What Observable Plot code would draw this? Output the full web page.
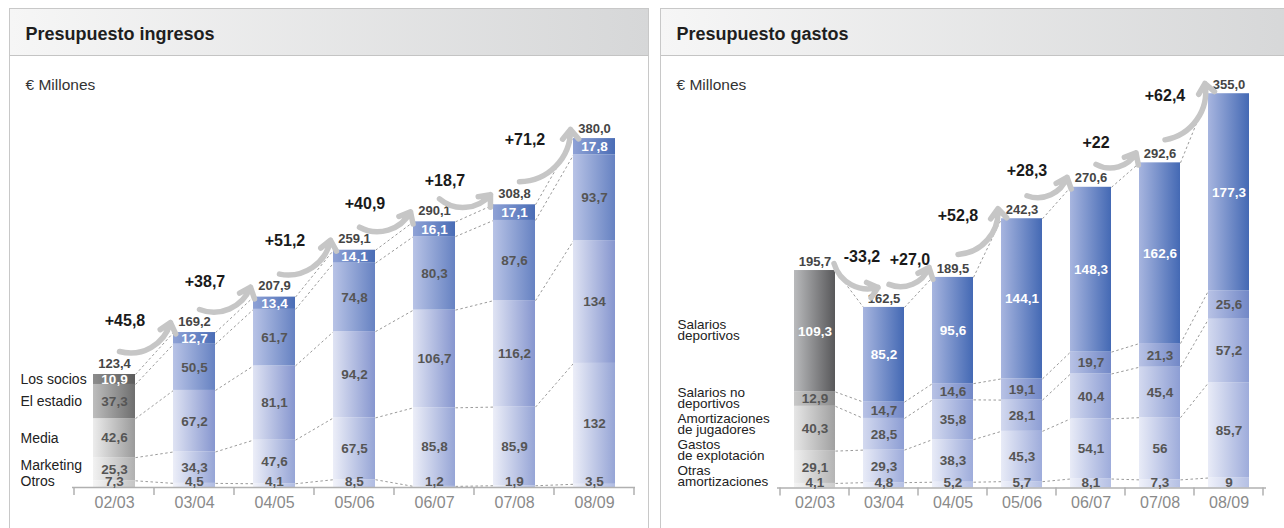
<!DOCTYPE html>
<html>
<head>
<meta charset="utf-8">
<script src="https://cdn.jsdelivr.net/npm/d3@7"></script>
<script src="https://cdn.jsdelivr.net/npm/@observablehq/plot@0.6"></script>
<style>
  body { margin: 0; background: #fff; font-family: "Liberation Sans", Arial, sans-serif; }
  #root { position: relative; width: 1284px; height: 528px; overflow: hidden; }
  .panel { position: absolute; top: 8px; height: 560px; border: 1.5px solid #c8c8c8; box-sizing: border-box; background: #fff; }
  .hdr { height: 47px; border-bottom: 1.5px solid #c4c4c4; box-sizing: border-box; background: linear-gradient(to right, #f6f6f6, #d6d7d8); }
  .title { position: absolute; left: 15.5px; top: 15px; font-weight: bold; font-size: 18px; color: #1e1e1e; }
  .unit { position: absolute; left: 15.5px; top: 67px; font-size: 15.5px; color: #333; }
  .chart { position: absolute; top: 55px; }
  .chart svg { overflow: visible; }
</style>
</head>
<body>
<svg width="0" height="0" style="position:absolute">
  <defs id="grads"></defs>
</svg>
<div id="root">
  <div class="panel" style="left:9px;width:640px;">
    <div class="hdr"></div>
    <div class="title">Presupuesto ingresos</div>
    <div class="unit">€ Millones</div>
  </div>
  <div class="panel" style="left:660px;width:640px;">
    <div class="hdr"></div>
    <div class="title">Presupuesto gastos</div>
    <div class="unit">€ Millones</div>
  </div>
  <div class="chart" id="c1" style="left:10px;"></div>
  <div class="chart" id="c2" style="left:662px;"></div>
</div>
<script>
// ---------- DATA ----------
const years = ["02/03", "03/04", "04/05", "05/06", "06/07", "07/08", "08/09"];

// Ingresos (bottom to top)
const ingCats = ["Otros", "Marketing", "Media", "El estadio", "Los socios"];
const ingOtros     = [7.3, 4.5, 4.1, 8.5, 1.2, 1.9, 3.5];
const ingMarketing = [25.3, 34.3, 47.6, 67.5, 85.8, 85.9, 132];
const ingMedia     = [42.6, 67.2, 81.1, 94.2, 106.7, 116.2, 134];
const ingEstadio   = [37.3, 50.5, 61.7, 74.8, 80.3, 87.6, 93.7];
const ingSocios    = [10.9, 12.7, 13.4, 14.1, 16.1, 17.1, 17.8];
const ingTotals    = [123.4, 169.2, 207.9, 259.1, 290.1, 308.8, 380.0];
const ingChanges   = ["+45,8", "+38,7", "+51,2", "+40,9", "+18,7", "+71,2"];

// Gastos (bottom to top)
const gasCats = ["Otras\namortizaciones", "Gastos\nde explotación", "Amortizaciones\nde jugadores", "Salarios no\ndeportivos", "Salarios\ndeportivos"];
const gasOtras      = [4.1, 4.8, 5.2, 5.7, 8.1, 7.3, 9];
const gasExplot     = [29.1, 29.3, 38.3, 45.3, 54.1, 56, 85.7];
const gasAmortJug   = [40.3, 28.5, 35.8, 28.1, 40.4, 45.4, 57.2];
const gasSalNoDep   = [12.9, 14.7, 14.6, 19.1, 19.7, 21.3, 25.6];
const gasSalDep     = [109.3, 85.2, 95.6, 144.1, 148.3, 162.6, 177.3];
const gasTotals     = [195.7, 162.5, 189.5, 242.3, 270.6, 292.6, 355.0];
const gasChanges    = ["-33,2", "+27,0", "+52,8", "+28,3", "+22", "+62,4"];

// ---------- COLOURS (gradients left->right) ----------
const ingBlue = [["#f2f3fa", "#b0bce2"], ["#eceef8", "#96a5d6"], ["#dfe3f3", "#8696cf"], ["#b8c3e6", "#6682c2"], ["#8fa2d6", "#4a6db6"]];
const ingGray = [["#f5f5f5", "#c5c5c5"], ["#f2f2f2", "#b0b0b0"], ["#ececec", "#9a9a9a"], ["#bdbdbd", "#6e6e6e"], ["#8c8c8c", "#5c5c5c"]];
const gasBlue = [["#eff1fa", "#b5c0e4"], ["#e8ebf7", "#9eacdb"], ["#d3d9ef", "#8d9ed4"], ["#b8c2e5", "#7288c7"], ["#a7b5df", "#4469b4"]];
const gasGray = [["#f4f4f4", "#cccccc"], ["#efefef", "#b4b4b4"], ["#e6e6e6", "#a0a0a0"], ["#c8c8c8", "#8c8c8c"], ["#b9babc", "#58585a"]];

const FONT = "'Liberation Sans', Arial, sans-serif";

const defs = d3.select("#grads");
function addGrads(id, blue, gray) {
  [["b", blue], ["g", gray]].forEach(([t, arr]) => {
    arr.forEach(([c0, c1], k) => {
      const lg = defs.append("linearGradient").attr("id", `${id}-${t}${k}`)
        .attr("x1", 0).attr("x2", 1).attr("y1", 0).attr("y2", 0);
      lg.append("stop").attr("offset", "0%").attr("stop-color", c0);
      lg.append("stop").attr("offset", "100%").attr("stop-color", c1);
    });
  });
}
addGrads("ing", ingBlue, ingGray);
addGrads("gas", gasBlue, gasGray);

function fmt(v) { return Number.isInteger(v) ? String(v) : v.toFixed(1).replace(".", ","); }
function fmt1(v) { return v.toFixed(1).replace(".", ","); }

function makeChart(cfg) {
  const {id, series, cats, totals, changes, width, height, mL, mR, mT, mB, yMax, pad,
         totalDy, labelDx, labelGap, labelBottom, lineHeight, catFont} = cfg;
  const nk = series.length;
  const rows = [];
  years.forEach((yr, i) => {
    let cum = 0;
    series.forEach((s, k) => {
      rows.push({year: yr, i, k, value: s[i], y1: cum, y2: cum + s[i]});
      cum += s[i];
    });
  });
  const links = [];
  for (let i = 0; i < years.length - 1; i++) {
    for (let k = 0; k < nk; k++) {
      const a = rows[i * nk + k], b = rows[(i + 1) * nk + k];
      links.push({a: a.year, b: b.year, ya: a.y2, yb: b.y2});
    }
  }
  const pairs = changes.map((c, i) => ({a: years[i], b: years[i + 1], ta: totals[i], tb: totals[i + 1], label: c, down: c.startsWith("-")}));
  const totalRows = years.map((yr, i) => ({year: yr, total: totals[i]}));
  const catRows = cats.map((c, k) => ({cat: c, k, y: (rows[k].y1 + rows[k].y2) / 2}));

  // arrow geometry offsets (pixels) relative to band centre / total top
  function arrowPts(d, scales) {
    const xa = scales.x(d.a), xb = scales.x(d.b), ya = scales.y(d.ta), yb = scales.y(d.tb);
    if (d.down) return [xa + 19, ya - 7, xb - 6, yb - 20];
    return [xa + 5, ya - 23, xb - 24, yb - 10];
  }

  const ticks = (index, scales) => {
    const x = scales.x, y0 = scales.y(0);
    const bw = x.bandwidth(), off = (x.step() - bw) / 2;
    const xs = years.map(yr => x(yr) - off);
    xs.push(x(years[years.length - 1]) + bw + off);
    const g = d3.create("svg:g").attr("stroke", "#b0b0b0").attr("stroke-width", 1.5);
    for (const xx of xs) g.append("line").attr("x1", xx).attr("x2", xx).attr("y1", y0).attr("y2", y0 + 8);
    return g.node();
  };

  return Plot.plot({
    width, height, marginLeft: mL, marginRight: mR, marginTop: mT, marginBottom: mB,
    style: {fontFamily: FONT, background: "transparent", overflow: "visible"},
    x: {domain: years, paddingInner: pad, paddingOuter: pad / 2, axis: null},
    y: {domain: [0, yMax], axis: null},
    color: {type: "identity"},
    marks: [
      Plot.link(links, {
        x1: "a", x2: "b", y1: "ya", y2: "yb", stroke: "#9a9a9a", strokeWidth: 1, strokeDasharray: "2.5,2.5",
        render(index, scales, values, dims, ctx, next) {
          const h = scales.x.bandwidth() / 2;
          const X1 = Array.from(values.x1, v => v + h), X2 = Array.from(values.x2, v => v - h);
          return next(index, scales, {...values, x1: X1, x2: X2}, dims, ctx);
        }
      }),
      Plot.barY(rows, {x: "year", y1: "y1", y2: "y2", fill: d => `url(#${id}-${d.i === 0 ? "g" : "b"}${d.k})`}),
      Plot.ruleY([0], {stroke: "#b0b0b0", strokeWidth: 1.5}),
      ticks,
      Plot.axisX({tickSize: 0, tickPadding: 9, fontSize: 16, fill: "#8a8a8a", label: null}),
      Plot.text(rows, {
        x: "year", y: d => (d.y1 + d.y2) / 2, text: d => fmt(d.value),
        fill: d => d.k === nk - 1 ? "#ffffff" : "#555555", fontWeight: "bold", fontSize: 13.5,
        render(index, scales, values, dims, ctx, next) {
          const lim = scales.y(0) - 5.5;
          const Y = Array.from(values.y, v => Math.min(v, lim));
          return next(index, scales, {...values, y: Y}, dims, ctx);
        }
      }),
      Plot.text(totalRows, {x: "year", y: "total", text: d => fmt1(d.total), dy: totalDy, fill: "#454545", fontWeight: "bold", fontSize: 13}),
      Plot.arrow(pairs, {
        x1: "a", y1: "ta", x2: "b", y2: "tb", bend: -45, stroke: "#c6c6c6", strokeWidth: 5.5,
        headLength: 3.4, headAngle: 80, strokeLinecap: "round", strokeLinejoin: "round",
        render(index, scales, values, dims, ctx, next) {
          const X1 = [], Y1 = [], X2 = [], Y2 = [];
          for (const i of index) { [X1[i], Y1[i], X2[i], Y2[i]] = arrowPts(pairs[i], scales); }
          return next(index, scales, {...values, x1: X1, y1: Y1, x2: X2, y2: Y2}, dims, ctx);
        }
      }),
      Plot.text(pairs, {
        x: "a", y: "ta", text: "label", fill: "#1a1a1a", fontWeight: "bold", fontSize: 16,
        render(index, scales, values, dims, ctx, next) {
          const X = [], Y = [];
          let prevX = -Infinity;
          for (const i of index) {
            const [x1, y1, x2, y2] = arrowPts(pairs[i], scales);
            const mx = (x1 + x2) / 2, my = (y1 + y2) / 2;
            if (pairs[i].down) { X[i] = mx + 6; Y[i] = my - 19; }
            else { X[i] = mx - 20; Y[i] = my - 16; }
            X[i] = Math.max(X[i], prevX + 48);   // keep neighbouring labels apart
            prevX = X[i];
          }
          return next(index, scales, {...values, x: X, y: Y}, dims, ctx);
        }
      }),
      Plot.text(catRows, {
        y: "y", text: "cat", frameAnchor: "left", textAnchor: "start", dx: labelDx,
        lineHeight, lineAnchor: "middle", fontSize: catFont, fill: "#222",
        render(index, scales, values, dims, ctx, next) {
          const y0 = scales.y(0);
          const Y = Array.from(values.y);
          let prev = y0 - labelBottom + labelGap;
          for (const i of index) { Y[i] = Math.min(Y[i], prev - labelGap); prev = Y[i]; }
          return next(index, scales, {...values, y: Y}, dims, ctx);
        }
      })
    ]
  });
}

document.getElementById("c1").append(makeChart({
  id: "ing", series: [ingOtros, ingMarketing, ingMedia, ingEstadio, ingSocios], cats: ingCats,
  totals: ingTotals, changes: ingChanges, width: 637, height: 473,
  mL: 62, mR: 12, mT: 84, mB: 41, yMax: 380, pad: 0.478,
  totalDy: -11, labelDx: -52, labelGap: 16, labelBottom: 6, lineHeight: 1, catFont: 14
}));

document.getElementById("c2").append(makeChart({
  id: "gas", series: [gasOtras, gasExplot, gasAmortJug, gasSalNoDep, gasSalDep], cats: gasCats,
  totals: gasTotals, changes: gasChanges, width: 622, height: 473,
  mL: 115, mR: 18, mT: 38, mB: 40.5, yMax: 355, pad: 0.4,
  totalDy: -9, labelDx: -100, labelGap: 26, labelBottom: 11.5, lineHeight: 0.82, catFont: 13.5
}));
</script>
</body>
</html>
